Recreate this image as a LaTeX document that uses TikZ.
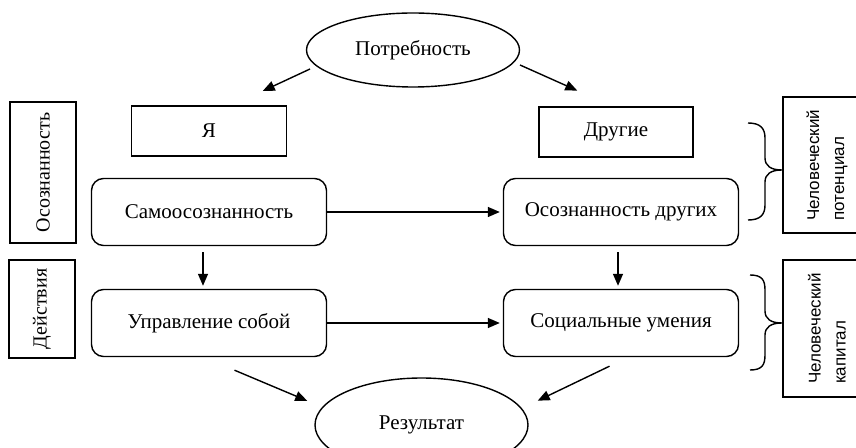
\documentclass[tikz,border=0pt]{standalone}
\usepackage{fontspec}
\setmainfont{Liberation Serif}
\newfontfamily\capfont{Liberation Sans}
\usetikzlibrary{shapes.geometric,positioning,arrows.meta}

\begin{document}
\begin{tikzpicture}[x=0.5pt,y=-0.5pt,shorten >=1.5pt,node distance=206pt,on grid,
    >={Triangle[length=6pt,width=5pt]},line width=0.7pt,
    every node/.style={font=\fontsize{10.5}{12}\selectfont},
    oval/.style={ellipse,draw,minimum width=106.5pt},
    sqbox/.style={rectangle,draw,minimum width=77.5pt,minimum height=25pt},
    rbox/.style={rectangle,draw,rounded corners=6pt,minimum width=117.5pt,minimum height=33.5pt},
    sidebox/.style={rectangle,draw,rotate=90,minimum height=33pt,font=\fontsize{10}{12}\selectfont},
    capbox/.style={rectangle,draw,rotate=90,minimum height=44pt,minimum width=68pt,align=left,
      font=\capfont\fontsize{8.5}{12.5}\selectfont}]
    \useasboundingbox (0,0) rectangle (856,448);

    \node[rbox] (self) at (209,212) {Самоосознанность};
    \node[rbox] (others) [right = of self] {Осознанность других};
    \node[rbox] (ctrl) [below = 55.5pt of self] {Управление собой};
    \node[rbox] (social) [right = of ctrl] {Социальные умения};

    \node[sqbox] (me) [above = 40.5pt of self] {Я};
    \node[sqbox,minimum width=77pt] (rest) [above left = 40pt and 2.5pt of others] {Другие};

    \node[oval,minimum height=37pt] (need) at (413,50) {Потребность};
    \node[oval,minimum height=47pt] (res) at (421.5,425) {Результат};

    \node[sidebox,minimum width=70.5pt] (aware) at (43,172.5) {Осознанность};
    \node[sidebox,minimum width=49pt] (acts) at (42,309) {Действия};

    \node[capbox] (potent) at (827,165) {Человеческий\\потенциал};
    \node[capbox,minimum width=68.5pt] (capit) at (827,328.5) {Человеческий\\капитал};

    \path[->]
    ([shift={(-103,19)}]need.center) edge ([shift={(51,-13)}]me.north)
    ([shift={(107,15)}]need.center) edge ([shift={(-36,-14.5)}]rest.north)
    (self) edge (others)
    (ctrl) edge (social)
    ([xshift=-3pt]self.south) edge [shorten <=3pt] ([xshift=-3pt]ctrl.north)
    ([xshift=-1.5pt]others.south) edge [shorten <=3pt] ([xshift=-1.5pt]social.north)
    ([shift={(25.5,13)}]ctrl.south) edge ([shift={(-111.5,-23)}]res.center)
    ([shift={(-11.5,9)}]social.south) edge ([shift={(113.5,-23)}]res.center)
    ;

    % braces
    \draw[shorten >=0pt] (748,123) .. controls (760,123) and (765,128) .. (765,138) -- (765,158)
      .. controls (765,166) and (771,170) .. (782,170) .. controls (771,170) and (765,174) .. (765,182)
      -- (765,205) .. controls (765,215) and (760,220) .. (748,220);
    \draw[shorten >=0pt] (750,275) .. controls (762,275) and (765,280) .. (765,290) -- (765,311)
      .. controls (765,319) and (771,323) .. (782,323) .. controls (771,323) and (765,327) .. (765,335)
      -- (765,355) .. controls (765,365) and (762,370) .. (750,370);
  \end{tikzpicture}
\end{document}
